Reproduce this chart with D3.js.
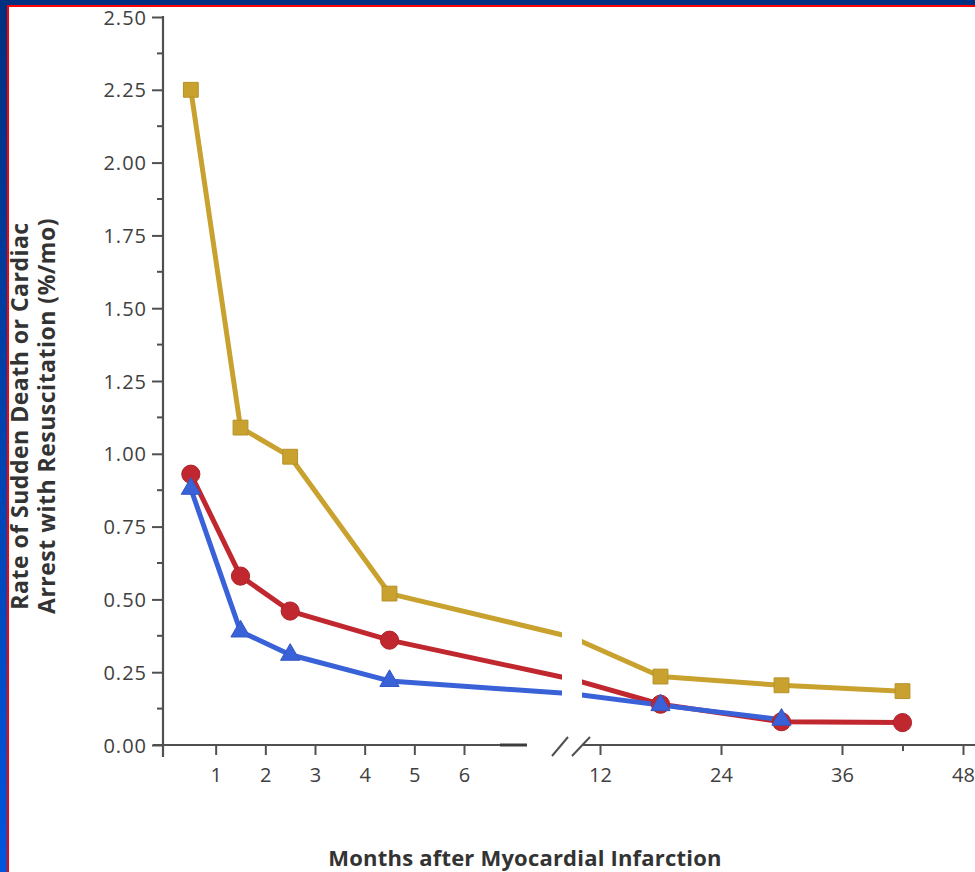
<!DOCTYPE html>
<html>
<head>
<meta charset="utf-8">
<script src="https://cdn.jsdelivr.net/npm/d3@7/dist/d3.min.js"></script>
<style>
  html, body { margin: 0; padding: 0; background: #fff; }
  svg { display: block; }
</style>
</head>
<body>
<script>
// ---------------- DATA ----------------
const months = [0.5, 1.5, 2.5, 4.5, 9, 18, 30, 42];
// month 9 point sits inside the axis break (its marker is hidden)
const hiddenMonths = [9];
const goldValues = [2.25, 1.09, 0.99, 0.52, 0.37, 0.235, 0.205, 0.185];
const redValues  = [0.93, 0.58, 0.46, 0.36, 0.226, 0.14, 0.08, 0.077];
const blueValues = [0.88, 0.39, 0.31, 0.22, 0.176, 0.137, 0.087, null];

const xTickValues = [1, 2, 3, 4, 5, 6, 12, 24, 36, 42, 48];
const xTickLabels = ["1", "2", "3", "4", "5", "6", "12", "24", "36", "", "48"];
const yTickValues = [0, 0.25, 0.5, 0.75, 1.0, 1.25, 1.5, 1.75, 2.0, 2.25, 2.5];
const yTickLabels = ["0.00", "0.25", "0.50", "0.75", "1.00", "1.25", "1.50", "1.75", "2.00", "2.25", "2.50"];
const yMinorTicks = [0.125, 0.375, 0.625, 0.875, 1.125, 1.375, 1.625, 1.875, 2.125, 2.375];

const yTitleLines = ["Rate of Sudden Death or Cardiac", "Arrest with Resuscitation (%/mo)"];
const xTitle = "Months after Myocardial Infarction";

// ---------------- LAYOUT ----------------
const W = 975, H = 872;
const axisX = 163;            // y-axis position
const axisY = 745;            // x-axis position
const COLORS = { gold: "#c9a12f", red: "#c1272f", blue: "#3a62d8", axis: "#505050", text: "#404040", title: "#333" };

const svg = d3.select("body").append("svg").attr("width", W).attr("height", H);

// frame background
const defs = svg.append("defs");
const grad = defs.append("linearGradient").attr("id", "bgGrad").attr("x1", 0).attr("y1", 0).attr("x2", 0).attr("y2", 1);
grad.append("stop").attr("offset", "0%").attr("stop-color", "#00307f");
grad.append("stop").attr("offset", "100%").attr("stop-color", "#0056dc");
svg.append("rect").attr("width", W).attr("height", H).attr("fill", "url(#bgGrad)");
svg.append("rect").attr("x", 0).attr("y", 0).attr("width", W).attr("height", 5).attr("fill", "#00307f");
svg.append("rect").attr("x", 7).attr("y", 5).attr("width", W - 7).attr("height", H - 5).attr("fill", "#ff0000");
svg.append("rect").attr("x", 9).attr("y", 7).attr("width", W - 9).attr("height", H - 7).attr("fill", "#ffffff");

// ---------------- SCALES ----------------
const x = d3.scaleLinear().domain([0, 6, 9, 12, 48]).range([166, 464, 572, 600, 963]);
const y = d3.scaleLinear().domain([0, 2.5]).range([axisY, 17]);

const font = "'Open Sans', 'Lato', sans-serif";

// ---------------- AXES ----------------
// Y axis
const yAxis = d3.axisLeft(y).tickValues(yTickValues)
  .tickFormat((d, i) => yTickLabels[i]).tickSize(11).tickPadding(5);
const gy = svg.append("g").attr("transform", `translate(${axisX},0)`).call(yAxis);
gy.select(".domain").remove();
gy.selectAll(".tick line").attr("stroke", COLORS.axis).attr("stroke-width", 2);
gy.selectAll(".tick text").attr("fill", COLORS.text).style("font-family", font).style("font-size", "20px")
  .style("letter-spacing", "1px").attr("dy", "0.35em");
// minor ticks
svg.append("g").selectAll("line").data(yMinorTicks).join("line")
  .attr("x1", axisX - 6).attr("x2", axisX).attr("y1", d => y(d)).attr("y2", d => y(d))
  .attr("stroke", COLORS.axis).attr("stroke-width", 2);
// y axis line (extends slightly below the x axis)
svg.append("line").attr("x1", axisX).attr("x2", axisX).attr("y1", y(2.5) - 1).attr("y2", axisY + 12)
  .attr("stroke", COLORS.axis).attr("stroke-width", 2.2);

// X axis
const xAxis = d3.axisBottom(x).tickValues(xTickValues)
  .tickFormat((d, i) => xTickLabels[i]).tickSize(10).tickPadding(13);
const gx = svg.append("g").attr("transform", `translate(0,${axisY})`).call(xAxis);
gx.select(".domain").remove();
gx.selectAll(".tick line").attr("stroke", COLORS.axis).attr("stroke-width", 2)
  .attr("y2", d => d === 42 ? 6 : 10);
gx.selectAll(".tick text").attr("fill", COLORS.text).style("font-family", font).style("font-size", "20px");

// x-axis line with break
const brk = x(hiddenMonths[0]);
const axisG = svg.append("g").attr("fill", "none");
axisG.append("line").attr("x1", axisX - 10).attr("x2", brk - 45).attr("y1", axisY).attr("y2", axisY)
  .attr("stroke", COLORS.axis).attr("stroke-width", 2.2);
axisG.append("line").attr("x1", brk - 72).attr("x2", brk - 45).attr("y1", axisY).attr("y2", axisY)
  .attr("stroke", "#3c3c3c").attr("stroke-width", 3);
axisG.append("line").attr("x1", brk + 11).attr("x2", W).attr("y1", axisY).attr("y2", axisY)
  .attr("stroke", COLORS.axis).attr("stroke-width", 2.2);
axisG.append("line").attr("x1", brk - 20).attr("y1", axisY + 11).attr("x2", brk - 4).attr("y2", axisY - 8)
  .attr("stroke", COLORS.axis).attr("stroke-width", 2);
axisG.append("line").attr("x1", brk).attr("y1", axisY + 11).attr("x2", brk + 18).attr("y2", axisY - 8)
  .attr("stroke", COLORS.axis).attr("stroke-width", 2);

// ---------------- SERIES ----------------
const clip = defs.append("clipPath").attr("id", "breakClip");
clip.append("rect").attr("x", axisX).attr("y", 0).attr("width", brk - 10 - axisX).attr("height", axisY - 3);
clip.append("rect").attr("x", brk + 10).attr("y", 0).attr("width", W - brk - 10).attr("height", axisY - 3);

const series = [
  { name: "LVEF ≤30%", values: goldValues, color: COLORS.gold, shape: "square" },
  { name: "LVEF 30-40%", values: redValues, color: COLORS.red, shape: "circle" },
  { name: "LVEF >40%", values: blueValues, color: COLORS.blue, shape: "triangle" }
];

const line = d3.line().defined(d => d.v != null).x(d => x(d.m)).y(d => y(d.v));

series.forEach(s => {
  const pts = months.map((m, i) => ({ m, v: s.values[i] }));
  svg.append("path").datum(pts).attr("d", line)
    .attr("fill", "none").attr("stroke", s.color).attr("stroke-width", 5)
    .attr("stroke-linejoin", "round").attr("clip-path", "url(#breakClip)");
});

const symbolType = { square: d3.symbolSquare, circle: d3.symbolCircle, triangle: d3.symbolTriangle };
const symbolSize = { square: 220, circle: 260, triangle: 160 };
series.forEach(s => {
  const pts = months.map((m, i) => ({ m, v: s.values[i] }))
    .filter(d => d.v != null && !hiddenMonths.includes(d.m));
  svg.append("g").selectAll("path").data(pts).join("path")
    .attr("transform", d => `translate(${x(d.m)},${y(d.v)})`)
    .attr("d", d3.symbol().type(symbolType[s.shape]).size(symbolSize[s.shape]))
    .attr("fill", s.color).attr("stroke", d3.color(s.color).darker(0.3)).attr("stroke-width", 1);
});

// ---------------- TITLES ----------------
const yt = svg.append("text").attr("transform", `translate(28,416) rotate(-90)`)
  .attr("text-anchor", "middle")
  .style("font-family", font).style("font-size", "23px").style("font-weight", 700)
  .style("letter-spacing", "0.5px").attr("fill", COLORS.title);
yt.append("tspan").attr("x", 0).attr("y", 0).text(yTitleLines[0]);
yt.append("tspan").attr("x", 0).attr("y", 27).text(yTitleLines[1]);

svg.append("text").attr("x", 525).attr("y", 866).attr("text-anchor", "middle")
  .style("font-family", font).style("font-size", "22px").style("font-weight", 700)
  .style("letter-spacing", "0.2px").attr("fill", COLORS.title)
  .text(xTitle);
</script>
</body>
</html>
